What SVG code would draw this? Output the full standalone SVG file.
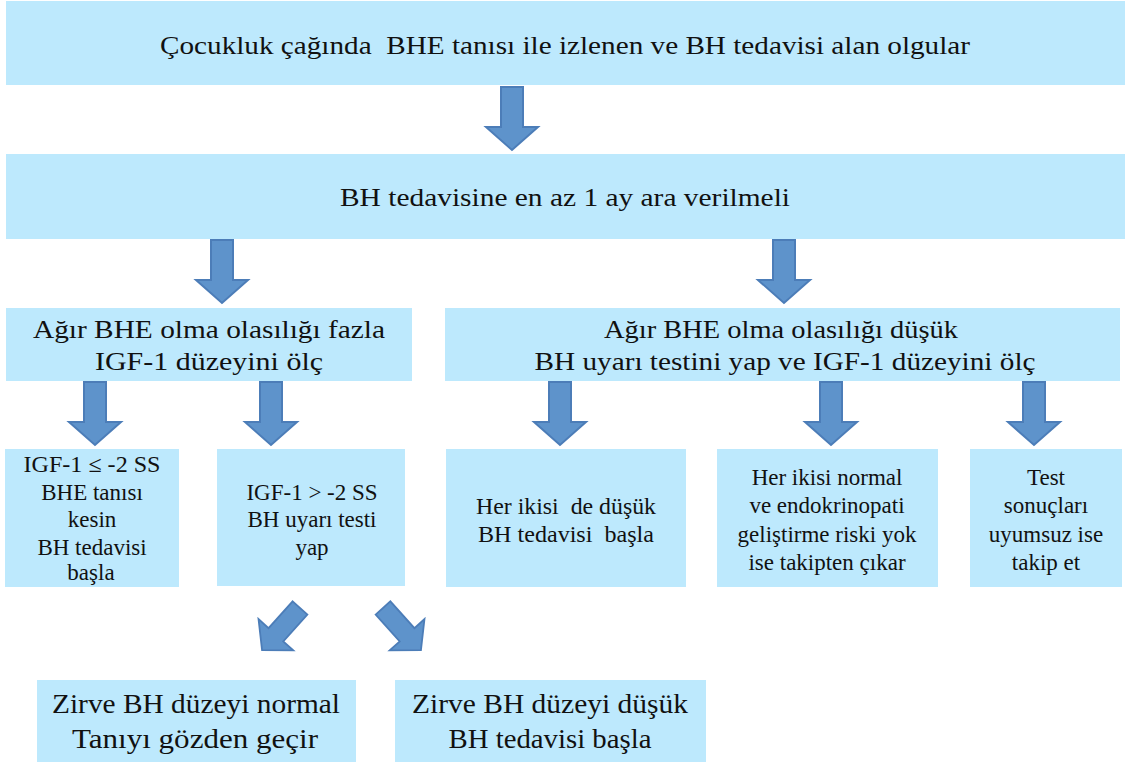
<svg xmlns="http://www.w3.org/2000/svg" width="1127" height="764" viewBox="0 0 1127 764">
<defs>
<style>
.box{fill:#bde9fd}
.lbl{font-family:'Liberation Serif','Times New Roman',serif;fill:#111;text-anchor:middle}
.t1{font-size:25px}
.t3{font-size:23px}
.t4{font-size:28px}
.arr{fill:#5e93cb;stroke:#4c7db8;stroke-width:2}
</style>
<path id="dn" d="M-11,0 H11 V40 H26 L0,63 L-26,40 H-11 Z"/>
</defs>
<g id="connectors">
<use href="#dn" class="arr" x="512" y="87"/>
<use href="#dn" class="arr" x="222" y="240"/>
<use href="#dn" class="arr" x="784" y="240"/>
<use href="#dn" class="arr" x="95" y="382"/>
<use href="#dn" class="arr" x="271" y="382"/>
<use href="#dn" class="arr" x="560" y="382"/>
<use href="#dn" class="arr" x="831" y="382"/>
<use href="#dn" class="arr" x="1034" y="382"/>
<use href="#dn" class="arr" transform="translate(300,608) rotate(42) scale(0.9)"/>
<use href="#dn" class="arr" transform="translate(383,608) rotate(-42) scale(0.9)"/>
</g>
<g id="n1"><rect class="box" x="6" y="1" width="1119" height="84"/><text class="lbl t1" x="565" y="54" textLength="810" lengthAdjust="spacingAndGlyphs" xml:space="preserve">Çocukluk çağında  BHE tanısı ile izlenen ve BH tedavisi alan olgular</text></g>
<g id="n2"><rect class="box" x="6" y="154" width="1119" height="85"/><text class="lbl t1" x="565" y="206" textLength="450" lengthAdjust="spacingAndGlyphs">BH tedavisine en az 1 ay ara verilmeli</text></g>
<g id="n3"><rect class="box" x="6" y="308" width="406" height="73"/><text class="lbl t1" x="209" y="338" textLength="352" lengthAdjust="spacingAndGlyphs">Ağır BHE olma olasılığı fazla</text><text class="lbl t1" x="209" y="370" textLength="228" lengthAdjust="spacingAndGlyphs">IGF-1 düzeyini ölç</text></g>
<g id="n4"><rect class="box" x="445" y="308" width="675" height="73"/><text class="lbl t1" x="781" y="338" textLength="354" lengthAdjust="spacingAndGlyphs">Ağır BHE olma olasılığı düşük</text><text class="lbl t1" x="785" y="370" textLength="501" lengthAdjust="spacingAndGlyphs">BH uyarı testini yap ve IGF-1 düzeyini ölç</text></g>
<g id="n5"><rect class="box" x="5" y="449" width="174" height="138"/><text class="lbl t3" x="92" y="472" textLength="137" lengthAdjust="spacingAndGlyphs">IGF-1 ≤ -2 SS</text><text class="lbl t3" x="92" y="500">BHE tanısı</text><text class="lbl t3" x="92" y="527">kesin</text><text class="lbl t3" x="92" y="555">BH tedavisi</text><text class="lbl t3" x="91" y="580">başla</text></g>
<g id="n6"><rect class="box" x="217" y="449" width="188" height="137"/><text class="lbl t3" x="312" y="500">IGF-1 &gt; -2 SS</text><text class="lbl t3" x="312" y="527">BH uyarı testi</text><text class="lbl t3" x="312" y="555">yap</text></g>
<g id="n7"><rect class="box" x="446" y="449" width="240" height="138"/><text class="lbl t3" x="566" y="514" textLength="180" lengthAdjust="spacingAndGlyphs" xml:space="preserve">Her ikisi  de düşük</text><text class="lbl t3" x="566" y="542" textLength="176" lengthAdjust="spacingAndGlyphs" xml:space="preserve">BH tedavisi  başla</text></g>
<g id="n8"><rect class="box" x="717" y="449" width="221" height="138"/><text class="lbl t3" x="827" y="485">Her ikisi normal</text><text class="lbl t3" x="827" y="513">ve endokrinopati</text><text class="lbl t3" x="827" y="542">geliştirme riski yok</text><text class="lbl t3" x="827" y="570">ise takipten çıkar</text></g>
<g id="n9"><rect class="box" x="970" y="449" width="152" height="138"/><text class="lbl t3" x="1046" y="485">Test</text><text class="lbl t3" x="1046" y="513">sonuçları</text><text class="lbl t3" x="1046" y="542">uyumsuz ise</text><text class="lbl t3" x="1046" y="570">takip et</text></g>
<g id="n10"><rect class="box" x="37" y="680" width="319" height="82"/><text class="lbl t4" x="196" y="713" textLength="288" lengthAdjust="spacingAndGlyphs">Zirve BH düzeyi normal</text><text class="lbl t4" x="195" y="748" textLength="246" lengthAdjust="spacingAndGlyphs">Tanıyı gözden geçir</text></g>
<g id="n11"><rect class="box" x="395" y="680" width="311" height="82"/><text class="lbl t4" x="550" y="713" textLength="276" lengthAdjust="spacingAndGlyphs">Zirve BH düzeyi düşük</text><text class="lbl t4" x="550" y="748" textLength="203" lengthAdjust="spacingAndGlyphs">BH tedavisi başla</text></g>
</svg>
